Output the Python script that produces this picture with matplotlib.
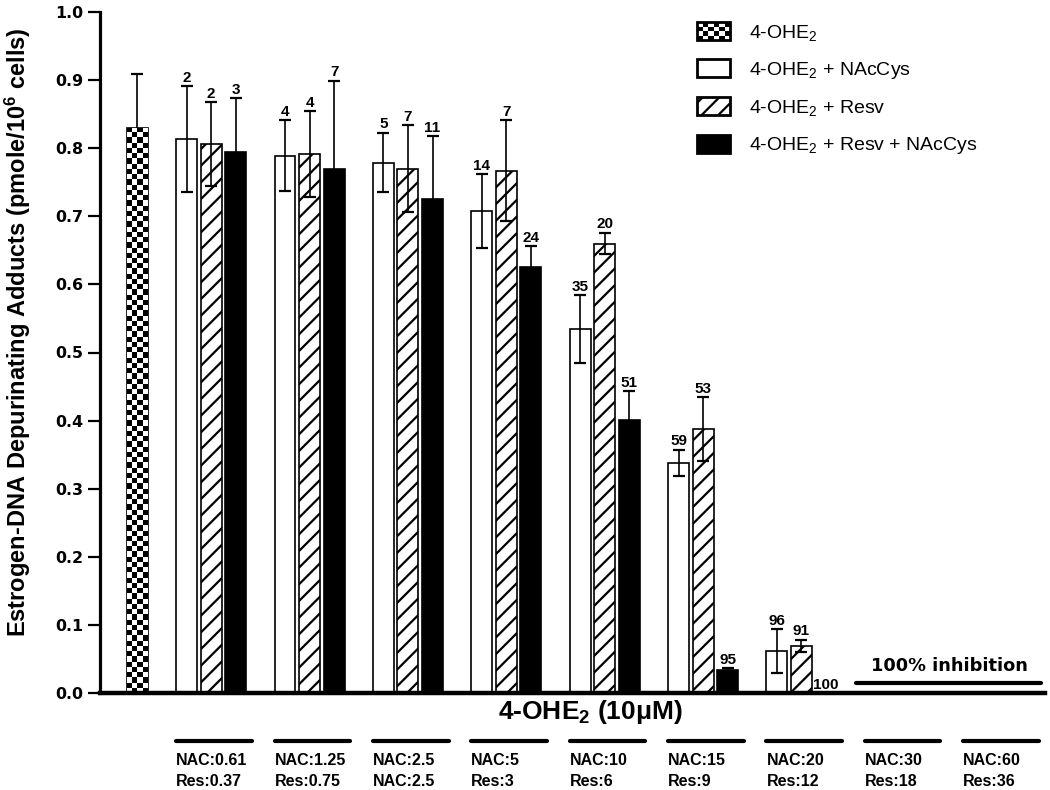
import matplotlib
matplotlib.use('Agg')
import matplotlib.pyplot as plt
import matplotlib.patches as mpatches
from matplotlib.legend_handler import HandlerBase
import numpy as np

plt.rcParams['font.family'] = ['Liberation Sans', 'DejaVu Sans']
plt.rcParams['mathtext.default'] = 'regular'
plt.rcParams['hatch.linewidth'] = 1.6

# data
nac_labels = ['NAC:0.61', 'NAC:1.25', 'NAC:2.5', 'NAC:5', 'NAC:10', 'NAC:15', 'NAC:20', 'NAC:30', 'NAC:60']
res_labels = ['Res:0.37', 'Res:0.75', 'NAC:2.5', 'Res:3', 'Res:6', 'Res:9', 'Res:12', 'Res:18', 'Res:36']

control = 0.830
control_err = 0.079

nac = [0.813, 0.789, 0.779, 0.708, 0.534, 0.338, 0.062]
nac_err = [0.078, 0.052, 0.044, 0.054, 0.050, 0.019, 0.032]
nac_pct = ['2', '4', '5', '14', '35', '59', '96']

resv = [0.806, 0.791, 0.770, 0.767, 0.660, 0.387, 0.069]
resv_err = [0.062, 0.063, 0.064, 0.074, 0.016, 0.047, 0.009]
resv_pct = ['2', '4', '7', '7', '20', '53', '91']

both = [0.795, 0.769, 0.725, 0.625, 0.401, 0.034, 0.0]
both_err = [0.078, 0.130, 0.093, 0.031, 0.042, 0.002, 0.0]
both_pct = ['3', '7', '11', '24', '51', '95', '100']

legend_labels = ['4-OHE$_2$', '4-OHE$_2$ + NAcCys', '4-OHE$_2$ + Resv', '4-OHE$_2$ + Resv + NAcCys']


class CheckerHandler(HandlerBase):
    def create_artists(self, legend, orig_handle, xdescent, ydescent,
                       width, height, fontsize, trans):
        nx, ny = 6, 4
        arts = []
        for i in range(nx):
            for j in range(ny):
                if (i + j) % 2 == 0:
                    arts.append(mpatches.Rectangle(
                        (-xdescent + i * width / nx, -ydescent + j * height / ny),
                        width / nx, height / ny, facecolor='black',
                        edgecolor='none', transform=trans))
        arts.append(mpatches.Rectangle((-xdescent, -ydescent), width, height,
                                       facecolor='none', edgecolor='black',
                                       lw=2, transform=trans))
        return arts


fig = plt.figure(figsize=(10.5, 7.9), dpi=100)
ax = fig.add_axes([100 / 1050, 97 / 790, 945 / 1050, 681 / 790])

ngroups = len(nac_labels)
nbars = len(nac)
w = 0.85
gx = np.arange(ngroups) * 4 + 2  # white-bar position of each group
x_nac = gx[:nbars]
x_res = gx[:nbars] + 1
x_both = gx[:nbars] + 2

ekw = dict(elinewidth=1.2, capthick=1.6, ecolor='black')
cap = 4.3

# control bar with checker fill
cb = ax.bar([0], [control], w, color='white', edgecolor='black', lw=1.2,
            yerr=[control_err], capsize=cap, error_kw=ekw, zorder=2)
rows = int(round(control * 681 / 5.25))
checker = (np.indices((rows, 4)).sum(axis=0) % 2).astype(float)
im = ax.imshow(checker, extent=(-w / 2, w / 2, 0, control), aspect='auto',
               cmap='gray', interpolation='nearest', zorder=2.1)
im.set_clip_path(cb.patches[0])

ax.bar(x_nac, nac, w, color='white', edgecolor='black', lw=1.2,
       yerr=nac_err, capsize=cap, error_kw=ekw, zorder=2)
ax.bar(x_res, resv, w, color='white', edgecolor='black', lw=1.2, hatch='//',
       yerr=resv_err, capsize=cap, error_kw=ekw, zorder=2)
ax.bar(x_both, both, w, color='black', edgecolor='black', lw=1.2,
       yerr=both_err, capsize=cap, error_kw=ekw, zorder=2)

for xs, vals, errs, pcts in [(x_nac, nac, nac_err, nac_pct),
                             (x_res, resv, resv_err, resv_pct),
                             (x_both, both, both_err, both_pct)]:
    for x, v, e, p in zip(xs, vals, errs, pcts):
        ax.annotate(p, (x, v + e), xytext=(0, 1), textcoords='offset points',
                    ha='center', va='bottom', fontsize=11, fontweight='bold')

# 100% inhibition marker for the highest doses
ax.plot([gx[7] - 0.8, gx[8] + 2.75], [0.015, 0.015], color='black', lw=3,
        solid_capstyle='round', zorder=3)
ax.text((gx[7] + gx[8] + 2) / 2, 0.04, '100% inhibition', ha='center',
        va='center', fontsize=12.8, fontweight='bold', family='DejaVu Sans')

ax.set_xlim(-1.52, 36.9)
ax.set_ylim(0, 1.0)
ax.set_yticks(np.arange(0, 1.01, 0.1))
ax.set_yticklabels(['%.1f' % t for t in np.arange(0, 1.01, 0.1)],
                   fontsize=11.4, fontweight='bold', family='DejaVu Sans')
ax.set_xticks([])
ax.tick_params(axis='y', direction='out', length=9, width=1.6, pad=3)
ax.spines['top'].set_visible(False)
ax.spines['right'].set_visible(False)
ax.spines['left'].set_linewidth(2.3)
ax.spines['bottom'].set_linewidth(3.2)
ax.spines['bottom'].set_zorder(4)

fig.text(18 / 1050, 1 - 332 / 790,
         'Estrogen-DNA Depurinating Adducts (pmole/10$^6$ cells)',
         rotation=90, ha='center', va='center', fontsize=17, fontweight='bold')

ax.text((590 - 100) / 945, -0.028, '4-OHE$_2$ (10μM)', transform=ax.transAxes,
        ha='center', va='center', fontsize=19, fontweight='bold')

# dose labels under each group
tr = ax.get_xaxis_transform()
for i in range(ngroups):
    x0 = gx[i] - w / 2
    ax.plot([x0, gx[i] + 2.65], [-0.0705, -0.0705], color='black', lw=3,
            solid_capstyle='round', transform=tr, clip_on=False)
    ax.text(x0, -0.099, nac_labels[i], transform=tr, ha='left', va='center',
            fontsize=11.5, fontweight='bold')
    ax.text(x0, -0.130, res_labels[i], transform=tr, ha='left', va='center',
            fontsize=11.5, fontweight='bold')

handles = [mpatches.Rectangle((0, 0), 1, 1, facecolor='white', edgecolor='black', lw=2)
           for _ in range(4)]
handles[2].set_hatch('//')
handles[3].set_facecolor('black')
ax.legend(handles, legend_labels, handler_map={handles[0]: CheckerHandler()},
          loc='upper left', bbox_to_anchor=(697 / 1050, 1 - 22 / 790),
          bbox_transform=fig.transFigure, frameon=False, borderpad=0,
          borderaxespad=0, fontsize=14, handlelength=1.7, handleheight=1.05,
          handletextpad=0.95, labelspacing=0.85)

fig.savefig('out.png', dpi=100)
